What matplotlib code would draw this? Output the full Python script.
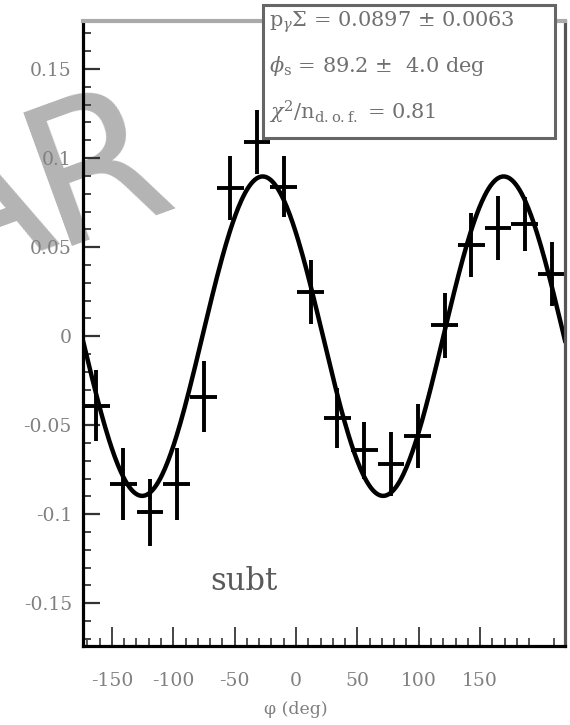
import numpy as np
import matplotlib
matplotlib.use('Agg')
from matplotlib import pyplot as plt
from matplotlib.patches import Rectangle

# beam asymmetry per 20 deg bin
phi = [-170, -150, -130, -110, -90, -70, -50, -30, -10, 10, 30, 50, 70, 90, 110, 130, 150, 170]
asym = [-0.039, -0.083, -0.099, -0.083, -0.034, 0.083, 0.109, 0.084, 0.025,
        -0.046, -0.064, -0.072, -0.056, 0.006, 0.051, 0.061, 0.063, 0.035]
asym_err = [0.020, 0.020, 0.019, 0.020, 0.020, 0.018, 0.018, 0.017, 0.018,
            0.017, 0.016, 0.018, 0.018, 0.018, 0.018, 0.018, 0.015, 0.018]
bin_half = 10

# fit result
p_sigma, p_sigma_err = 0.0897, 0.0063
phi_s, phi_s_err = 89.2, 4.0
chi2_ndf = 0.81

x_labels = [-150, -100, -50, 0, 50, 100, 150]
y_ticks = [-0.15, -0.1, -0.05, 0, 0.05, 0.1, 0.15]
y_labels = ['-0.15', '-0.1', '-0.05', '0', '0.05', '0.1', '0.15']

plt.rcParams['font.family'] = ['DejaVu Serif']
plt.rcParams['mathtext.fontset'] = 'dejavuserif'

W, H = 570, 725
fig = plt.figure(figsize=(W / 100, H / 100), dpi=100)
ax = fig.add_axes([83 / W, 1 - 646 / H, (565 - 83) / W, (646 - 21) / H])
ax.set_facecolor('none')

# stamp letters behind the frame
for letter, (px, py) in zip('AR', [(-20, 215), (98, 172)]):
    fig.text(px / W, 1 - py / H, letter, rotation=20, rotation_mode='anchor',
             ha='center', va='center', fontsize=140, color='#b4b4b4',
             family='DejaVu Sans', zorder=-1)

xs = np.linspace(-180, 180, 500)
ax.plot(xs, p_sigma * np.sin(2 * np.radians(xs - phi_s)), color='black', lw=3.2)
ax.errorbar(phi, asym, yerr=asym_err, xerr=bin_half, fmt='none',
            ecolor='black', elinewidth=2.8, capsize=0)

ax.set_xlim(-180, 180)
ax.set_ylim(-0.174, 0.177)


def label_to_phi(t):
    return -20.9 + 0.9167 * t


ax.set_xticks([label_to_phi(t) for t in x_labels])
ax.set_xticklabels([str(t) for t in x_labels])
ax.set_xticks([label_to_phi(t) for t in range(-170, 220, 10) if t % 50], minor=True)
ax.set_yticks(y_ticks)
ax.set_yticklabels(y_labels)
ax.set_yticks([v / 100 for v in range(-17, 18) if v % 5], minor=True)

ax.tick_params(axis='x', which='major', direction='in', length=13.5, width=1.4,
               color='#444444', labelsize=13.5, labelcolor='#808080', pad=19)
ax.tick_params(axis='x', which='minor', direction='in', length=6, width=1.4, color='#555555')
ax.tick_params(axis='y', which='major', direction='in', length=12, width=1.6,
               color='#333333', labelsize=13.5, labelcolor='#808080', pad=8)
ax.tick_params(axis='y', which='minor', direction='in', length=5.5, width=1.4, color='#444444')

ax.spines['left'].set_linewidth(2.3)
ax.spines['bottom'].set_linewidth(2.3)
ax.spines['top'].set_color('#aaaaaa')
ax.spines['top'].set_linewidth(3)
ax.spines['right'].set_color('#555555')
ax.spines['right'].set_linewidth(2.3)

fig.text(296 / W, 1 - 710 / H, 'φ (deg)', ha='center', va='center',
         fontsize=12.5, color='#808080')
fig.text(244 / W, 1 - 582 / H, 'subt', ha='center', va='center',
         fontsize=22, color='#5a5a5a')

# fit parameter box
box = Rectangle((263 / W, 1 - 138 / H), 292 / W, 133 / H, transform=fig.transFigure,
                facecolor='white', edgecolor='#666666', lw=2.2, zorder=3)
fig.add_artist(box)
rows = [
    r'$\mathrm{p}_{\gamma}\Sigma$ = %.4f ± %.4f' % (p_sigma, p_sigma_err),
    r'$\phi_{\mathrm{s}}$ = %.1f ±  %.1f deg' % (phi_s, phi_s_err),
    r'$\chi^2/\mathrm{n}_{\mathrm{d.o.f.}}$ = %.2f' % chi2_ndf,
]
for row, y in zip(rows, [22, 66, 112]):
    fig.text(269 / W, 1 - y / H, row, ha='left', va='center', fontsize=15,
             color='#707070', zorder=4)

fig.savefig('out.png', dpi=100)
